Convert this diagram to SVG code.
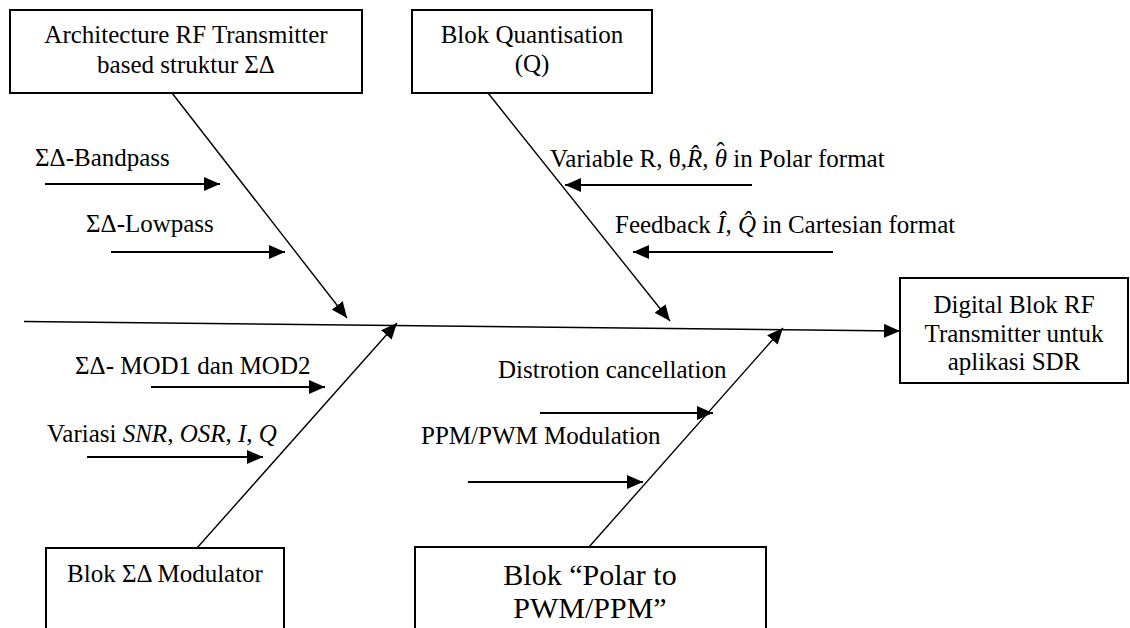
<svg xmlns="http://www.w3.org/2000/svg" width="1130" height="628" viewBox="0 0 1130 628">
  <style>
    .box { fill: #ffffff; stroke: #000000; stroke-width: 2; }
    .t { font-family: "Liberation Serif", "Times New Roman", serif; font-size: 25px; fill: #000000; }
    .c { text-anchor: middle; }
    .big { font-size: 30px; }
    .bone { fill: none; stroke: #000000; stroke-width: 1.4; }
    .cause { fill: none; stroke: #000000; stroke-width: 2; }
    .i { font-style: italic; }
  </style>
  <defs>
    <marker id="head" viewBox="0 0 16 14" refX="16" refY="7" markerWidth="16" markerHeight="14" markerUnits="userSpaceOnUse" orient="auto">
      <path d="M0,0 L16,7 L0,14 z" fill="#000000"/>
    </marker>
  </defs>

  <rect width="1130" height="628" fill="#ffffff"/>

  <!-- spine and bones -->
  <g id="connectors">
    <line class="bone" x1="24" y1="321.5" x2="900" y2="331" marker-end="url(#head)"/>
    <line class="bone" x1="172" y1="93" x2="347" y2="318" marker-end="url(#head)"/>
    <line class="bone" x1="488" y1="93" x2="670" y2="321" marker-end="url(#head)"/>
    <line class="bone" x1="197" y1="548" x2="397" y2="323" marker-end="url(#head)"/>
    <line class="bone" x1="589" y1="547" x2="783" y2="328" marker-end="url(#head)"/>

    <!-- cause arrows -->
    <line class="cause" x1="45" y1="184" x2="220" y2="184" marker-end="url(#head)"/>
    <line class="cause" x1="111" y1="252" x2="285" y2="252" marker-end="url(#head)"/>
    <line class="cause" x1="752" y1="185" x2="565" y2="185" marker-end="url(#head)"/>
    <line class="cause" x1="833" y1="252" x2="633" y2="252" marker-end="url(#head)"/>
    <line class="cause" x1="151" y1="387" x2="325" y2="387" marker-end="url(#head)"/>
    <line class="cause" x1="87" y1="457" x2="263" y2="457" marker-end="url(#head)"/>
    <line class="cause" x1="540" y1="413" x2="713" y2="413" marker-end="url(#head)"/>
    <line class="cause" x1="468" y1="482" x2="643" y2="482" marker-end="url(#head)"/>
  </g>

  <!-- cause labels -->
  <g id="labels">
    <text class="t" x="35" y="166">ΣΔ-Bandpass</text>
    <text class="t" x="86" y="232">ΣΔ-Lowpass</text>
    <text class="t" x="550" y="167">Variable R, θ,<tspan class="i">R̂</tspan>, <tspan class="i">θ</tspan><tspan dx="-10.5" dy="-7">ˆ</tspan><tspan dx="2.2" dy="7"> in Polar format</tspan></text>
    <text class="t" x="615" y="233">Feedback <tspan class="i">Î</tspan>, <tspan class="i">Q̂</tspan> in Cartesian format</text>
    <text class="t" x="75" y="374">ΣΔ- MOD1 dan MOD2</text>
    <text class="t" x="47" y="442">Variasi <tspan class="i">SNR</tspan>, <tspan class="i">OSR</tspan>, <tspan class="i">I</tspan>, <tspan class="i">Q</tspan></text>
    <text class="t" x="498" y="378">Distrotion cancellation</text>
    <text class="t" x="421" y="444">PPM/PWM Modulation</text>
  </g>

  <g id="node-architecture">
    <rect class="box" x="10" y="10" width="352" height="83"/>
    <text class="t c" x="186" y="43">Architecture RF Transmitter</text>
    <text class="t c" x="186" y="73">based struktur ΣΔ</text>
  </g>

  <g id="node-quantisation">
    <rect class="box" x="412" y="10" width="240" height="83"/>
    <text class="t c" x="532" y="43">Blok Quantisation</text>
    <text class="t c" x="532" y="72">(Q)</text>
  </g>

  <g id="node-digital">
    <rect class="box" x="900" y="278" width="228" height="105"/>
    <text class="t c" x="1014" y="313">Digital Blok RF</text>
    <text class="t c" x="1014" y="342">Transmitter untuk</text>
    <text class="t c" x="1014" y="370">aplikasi SDR</text>
  </g>

  <g id="node-modulator">
    <rect class="box" x="46" y="548" width="238" height="100"/>
    <text class="t c" x="165" y="582">Blok ΣΔ Modulator</text>
  </g>

  <g id="node-polar">
    <rect class="box" x="415" y="547" width="351" height="100"/>
    <text class="t c big" x="590" y="585">Blok “Polar to</text>
    <text class="t c big" x="590" y="618">PWM/PPM”</text>
  </g>
</svg>
